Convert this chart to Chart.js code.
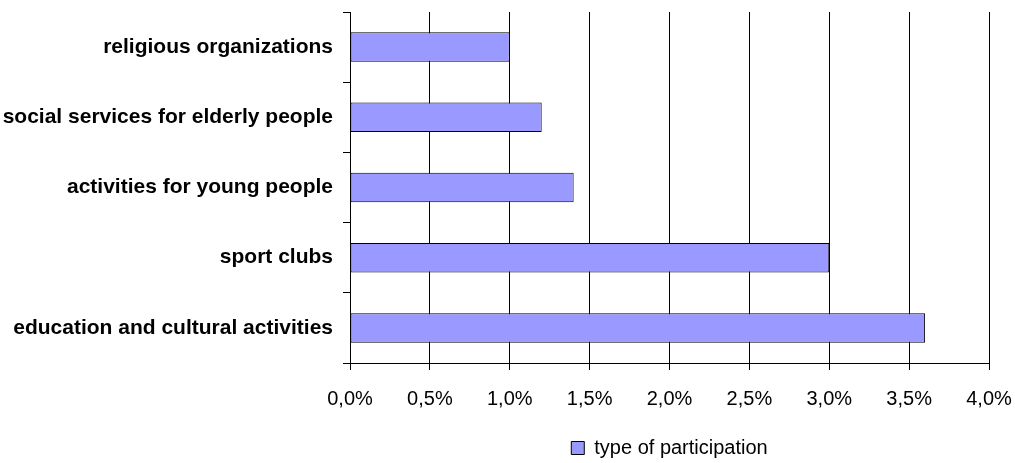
<!DOCTYPE html>
<html>
<head>
<meta charset="utf-8">
<script src="https://cdn.jsdelivr.net/npm/chart.js@4"></script>
<style>
  html, body { margin: 0; padding: 0; background: #fff; }
  #wrap { width: 1015px; height: 463px; position: relative; }
</style>
</head>
<body>
<div id="wrap"><canvas id="chart"></canvas></div>
<script>
// chart values
var categories = [
    "religious organizations",
    "social services for elderly people",
    "activities for young people",
    "sport clubs",
    "education and cultural activities"
];
var participation = [1.0, 1.2, 1.4, 3.0, 3.6];
var xTicks = [0, 0.5, 1.0, 1.5, 2.0, 2.5, 3.0, 3.5, 4.0];
var seriesName = "type of participation";

Chart.defaults.font.family = "'Liberation Sans', Arial, sans-serif";
Chart.defaults.font.size = 20;
Chart.defaults.color = "#000";

// push the legend a few pixels lower than the layout puts it
var legendNudge = {
    id: "legendNudge",
    afterLayout: function (chart) {
        var lg = chart.legend;
        if (!lg) return;
        lg.top += 5;
        lg.bottom += 5;
        if (lg.legendHitBoxes) {
            lg.legendHitBoxes.forEach(function (b) { b.top += 5; });
        }
    }
};

var ctx = document.getElementById("chart").getContext("2d");
new Chart(ctx, {
    type: "bar",
    data: {
        labels: categories,
        datasets: [{
            label: seriesName,
            data: participation,
            backgroundColor: "#9999FF",
            borderColor: "#000",
            borderWidth: 1,
            borderSkipped: false,
            barPercentage: 0.84,
            categoryPercentage: 0.5
        }]
    },
    options: {
        indexAxis: "y",
        responsive: true,
        maintainAspectRatio: false,
        animation: false,
        layout: { padding: { top: 12, right: 26, bottom: 0, left: 0 } },
        plugins: {
            tooltip: { enabled: false },
            legend: {
                position: "bottom",
                fullSize: false,
                labels: {
                    boxWidth: 13,
                    boxHeight: 13,
                    padding: 0,
                    color: "#000",
                    font: { size: 20 }
                }
            }
        },
        scales: {
            x: {
                min: 0,
                max: 4,
                afterBuildTicks: function (scale) {
                    scale.ticks = xTicks.map(function (v) { return { value: v }; });
                },
                afterFit: function (scale) {
                    scale.height = 70;
                    scale.paddingRight = 0;
                    scale.paddingLeft = 0;
                },
                ticks: {
                    padding: 17,
                    callback: function (v) { return v.toFixed(1).replace(".", ",") + "%"; }
                },
                grid: { color: "#000", lineWidth: 1, tickLength: 7 },
                border: { color: "#000", width: 1 }
            },
            y: {
                afterFit: function (scale) {
                    scale.width = 350;
                    scale.paddingTop = 0;
                    scale.paddingBottom = 0;
                },
                ticks: {
                    padding: 10,
                    font: { weight: "bold", size: 21 }
                },
                grid: { drawOnChartArea: false, color: "#000", tickLength: 7, offset: true },
                border: { color: "#000", width: 1 }
            }
        }
    },
    plugins: [legendNudge]
});
</script>
</body>
</html>
